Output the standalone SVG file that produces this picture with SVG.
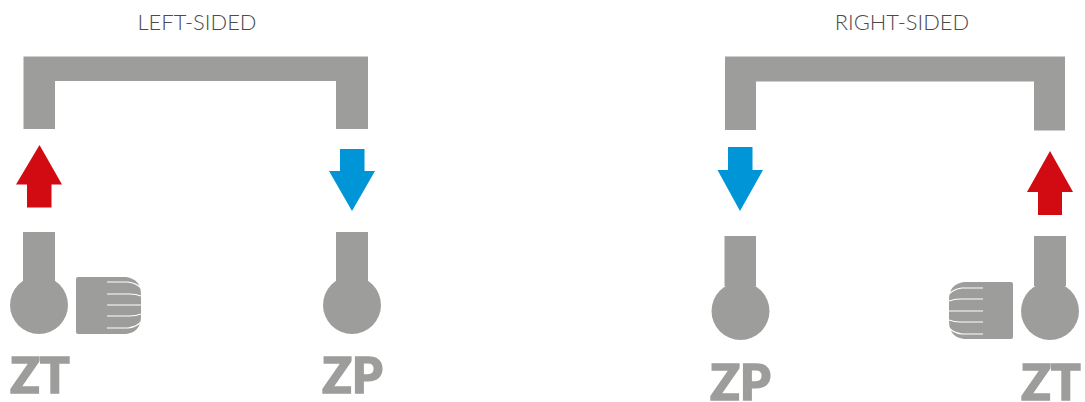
<svg xmlns="http://www.w3.org/2000/svg" width="1085" height="402" viewBox="0 0 1085 402">
<style>
.g{fill:#9d9d9c}
.red{fill:#d20a11}
.blue{fill:#0095d6}
.title{font-family:Lato,"Liberation Sans",sans-serif;font-size:21.900px;fill:#4a4a49;text-anchor:middle;font-weight:300}
.lab{font-family:Lato,"Liberation Sans",sans-serif;font-size:49px;fill:#9d9d9c;stroke:#9d9d9c;stroke-width:1.600;font-weight:900;text-anchor:middle}
.fin{fill:none;stroke:#fff;stroke-width:1.200}
</style>
<rect width="1085" height="402" fill="#fff"/>
<g id="left-sided">
<text class="title" x="197" y="30">LEFT-SIDED</text>
<path id="left-pipe" class="g" d="M23.500 56.500H368V129H336V81H55V129H23.500Z"/>
</g>
<g id="right-sided">
<text class="title" x="902" y="30">RIGHT-SIDED</text>
<path id="right-pipe" class="g" d="M725 56.500H1065V130.500H1034V81.500H756V130H725Z"/>
</g>
<g id="connectors">
<path class="red" d="M39.500 145L62 184.500H51.500V207.500H27V184.500H16Z"/>
<path class="blue" d="M340 149H364.500V171H375L352 211L329 171H340Z"/>
<path class="blue" d="M728 147H752.500V170H763L740 211L717.500 170H728Z"/>
<path class="red" d="M1050 151L1073 192H1062V215H1038V192H1027Z"/>
</g>
<g id="zt-left">
<rect class="g" x="23" y="232" width="32" height="50"/>
<circle class="g" cx="39" cy="305" r="29"/>
<path class="g" d="M78 277H126Q141 279 141 295V316Q141 332 126 334H78Q76 334 76 332V279Q76 277 78 277Z"/>
<path class="fin" d="M107 282H128Q136 283 141 288M107 294H130Q136 294 141 296M107 305H141M107 316H130Q136 316 141 314M107 328H128Q136 327 141 322"/>
<text class="lab" x="40" y="392.500">ZT</text>
</g>
<g id="zp-left">
<rect class="g" x="336" y="232" width="32" height="50"/>
<circle class="g" cx="352" cy="305" r="29"/>
<text class="lab" x="352.500" y="392.500">ZP</text>
</g>
<g id="zp-right">
<rect class="g" x="724.500" y="236" width="31.500" height="50"/>
<circle class="g" cx="740.500" cy="311" r="29"/>
<text class="lab" x="740.500" y="399.500">ZP</text>
</g>
<g id="zt-right">
<rect class="g" x="1034" y="236" width="32" height="50"/>
<circle class="g" cx="1050" cy="311" r="29"/>
<path class="g" d="M1011 282H964Q949 284 949 300V321Q949 337 964 339H1011Q1013 339 1013 337V284Q1013 282 1011 282Z"/>
<path class="fin" d="M983 288H962Q954 289 949 294M983 299H960Q954 299 949 301M983 311H949M983 322H960Q954 322 949 320M983 334H962Q954 333 949 328"/>
<text class="lab" x="1051" y="399.500">ZT</text>
</g>
</svg>
